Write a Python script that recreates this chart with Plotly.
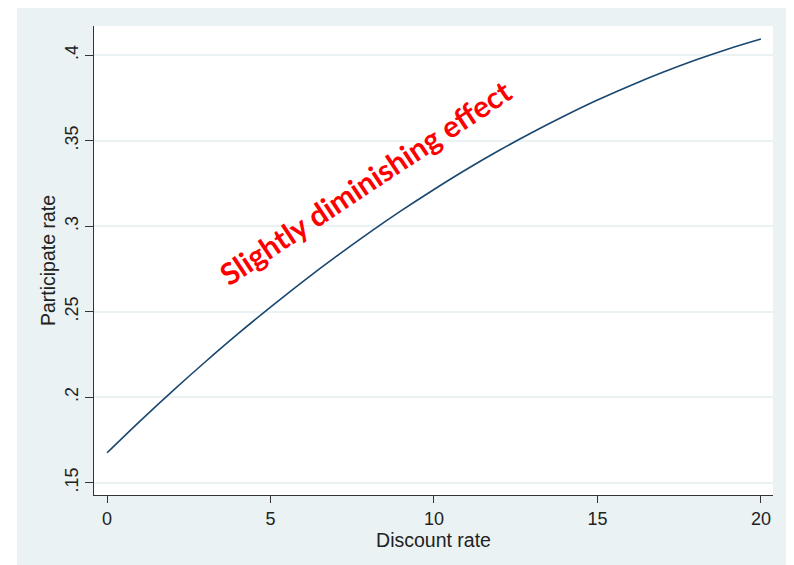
import plotly.graph_objects as go

discount_rate = [0, 1, 2, 3, 4, 5, 6, 7, 8, 9, 10, 11, 12, 13, 14, 15, 16, 17, 18, 19, 20]
participate_rate = [0.1675, 0.1859, 0.2036, 0.2206, 0.2370, 0.2527, 0.2678, 0.2822, 0.2960,
                    0.3091, 0.3215, 0.3333, 0.3444, 0.3548, 0.3646, 0.3738, 0.3822, 0.3900,
                    0.3972, 0.4037, 0.4095]
x_ticks = [0, 5, 10, 15, 20]
y_ticks = [0.15, 0.2, 0.25, 0.3, 0.35, 0.4]
y_tick_labels = [".15", ".2", ".25", ".3", ".35", ".4"]
annotation_text = "Slightly diminishing effect"

BG = "#EAF2F3"
fig = go.Figure()
fig.add_trace(go.Scatter(x=discount_rate, y=participate_rate, mode="lines",
                         line=dict(color="#1A476F", width=1.6, shape="spline"),
                         showlegend=False, hoverinfo="skip"))

# plot area in page px: x 94..773, y 26..495 (page has 8px body offset)
fig.add_shape(type="rect", xref="paper", yref="paper", x0=-0.1134, x1=1.2, y0=-0.3, y1=1.0426,
              fillcolor=BG, line=dict(width=0), layer="below")
fig.add_shape(type="rect", xref="paper", yref="paper", x0=0, x1=1, y0=0, y1=1,
              fillcolor="white", line=dict(width=0), layer="below")

fig.add_annotation(x=7.89, y=0.3258, text="<b>" + annotation_text + "</b>", showarrow=False,
                   textangle=-33.6, font=dict(family="Lato, Open Sans, sans-serif", size=30, color="#FF0000"))

axis_font = dict(family="Liberation Sans, Arial, sans-serif", size=18, color="#222222")
fig.update_layout(
    width=794, height=565,
    margin=dict(l=86, r=29, t=18, b=78),
    paper_bgcolor="white", plot_bgcolor="rgba(0,0,0,0)",
    font=axis_font,
    xaxis=dict(range=[-0.4, 20.37], tickvals=x_ticks, ticks="outside", ticklen=7, tickcolor="#333333",
               showline=True, linecolor="#333333", linewidth=1.2, showgrid=False, zeroline=False,
               title=dict(text="Discount rate", font=dict(size=19.5), standoff=3)),
    yaxis=dict(range=[0.1428, 0.4171], tickvals=y_ticks, ticktext=y_tick_labels, tickangle=-90,
               ticks="outside", ticklen=8, tickcolor="#333333",
               showline=True, linecolor="#333333", linewidth=1.2, showgrid=True, gridcolor=BG,
               gridwidth=1.5, zeroline=False,
               title=dict(text="Participate rate", font=dict(size=19.5), standoff=0)),
)
fig.write_html("out.html")
